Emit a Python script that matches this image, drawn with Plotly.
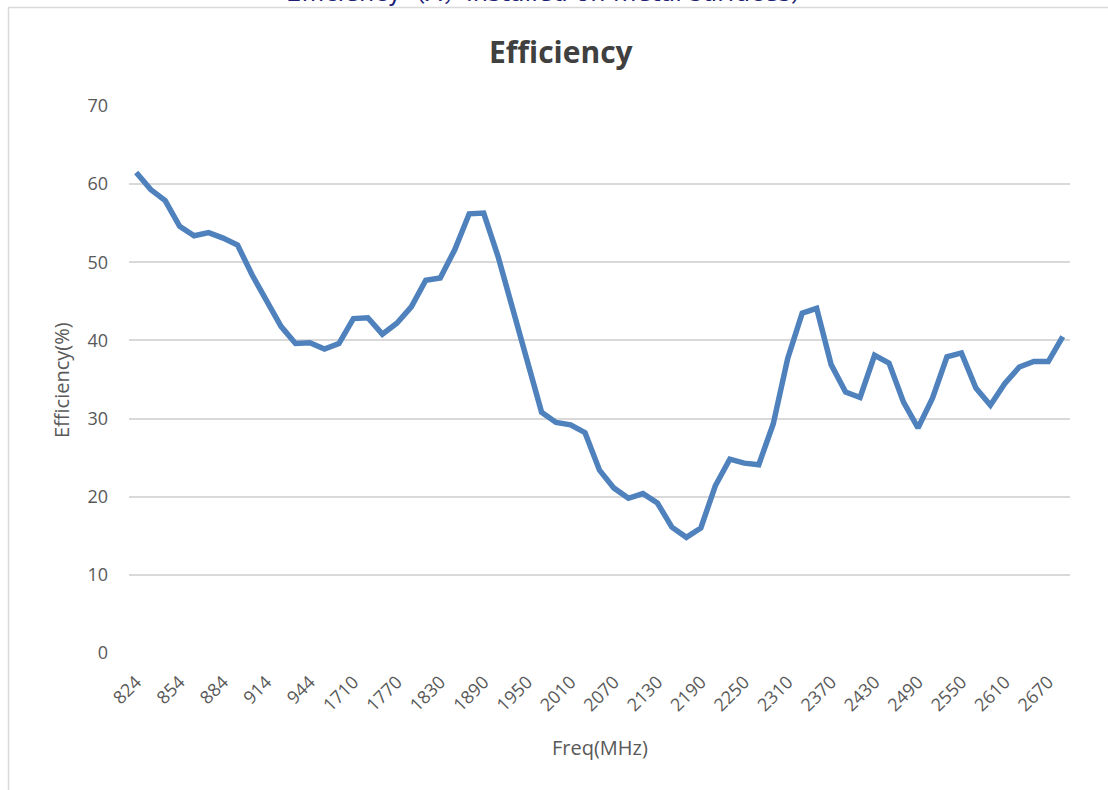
import plotly.graph_objects as go

freq = [824, 834, 844, 854, 864, 874, 884, 894, 904, 914, 924, 934, 944, 954, 960,
        1710, 1730, 1750, 1770, 1790, 1810, 1830, 1850, 1870, 1890, 1910, 1930, 1950,
        1970, 1990, 2010, 2030, 2050, 2070, 2090, 2110, 2130, 2150, 2170, 2190, 2210,
        2230, 2250, 2270, 2290, 2310, 2330, 2350, 2370, 2390, 2410, 2430, 2450, 2470,
        2490, 2510, 2530, 2550, 2570, 2590, 2610, 2630, 2650, 2670, 2690]
efficiency = [61.5, 59.3, 57.9, 54.6, 53.4, 53.8, 53.1, 52.2, 48.4, 45.0, 41.8, 39.6,
              39.7, 38.9, 39.6, 42.8, 42.9, 40.8, 42.2, 44.3, 47.7, 48.0, 51.6, 56.2,
              56.3, 50.7, 44.1, 37.5, 30.8, 29.5, 29.2, 28.2, 23.4, 21.1, 19.8, 20.4,
              19.2, 16.1, 14.8, 16.0, 21.4, 24.8, 24.3, 24.1, 29.3, 37.7, 43.5, 44.1,
              36.9, 33.4, 32.7, 38.1, 37.1, 32.1, 28.8, 32.6, 37.9, 38.4, 33.9, 31.7,
              34.5, 36.6, 37.3, 37.3, 40.5]
cats = [str(f) for f in freq]
tick_labels = cats[::3]

title_text = "Efficiency"
top_text = "Efficiency（A，installed on metal surfaces）"
x_title = "Freq(MHz)"
y_title = "Efficiency(%)"

W, H = 1108, 790
L, R, T, B = 129, 38, 106, 137
pw, ph = W - L - R, H - T - B


def px(x):
    return (x - L) / pw


def py(y):
    return (H - B - y) / ph


fig = go.Figure()
fig.add_trace(go.Scatter(
    x=cats, y=efficiency, mode="lines",
    line=dict(color="#4F81BD", width=5.5, shape="linear"),
    hoverinfo="x+y", showlegend=False,
))

font = "Open Sans, Calibri, Carlito, sans-serif"
fig.update_layout(
    width=W, height=H,
    margin=dict(l=L, r=R, t=T, b=B),
    paper_bgcolor="white", plot_bgcolor="white",
    font=dict(family=font, color="#595959", size=18),
    xaxis=dict(
        type="category", tickmode="array", tickvals=tick_labels, ticktext=tick_labels,
        tickangle=-45, showgrid=False, zeroline=False, showline=False,
        ticks="", ticklabelstandoff=14,
        tickfont=dict(size=18, color="#595959"),
        range=[-0.5, len(cats) - 0.5],
    ),
    yaxis=dict(
        range=[0, 70], dtick=10, tick0=0, showgrid=True, gridcolor="#D9D9D9",
        gridwidth=1.5, zeroline=False, showline=False, ticks="",
        ticklabelstandoff=20, tickfont=dict(size=18, color="#595959"),
    ),
    shapes=[
        dict(type="line", xref="paper", yref="paper",
             x0=px(8), x1=px(1120), y0=py(7.5), y1=py(7.5),
             line=dict(color="#D9D9D9", width=1.5)),
        dict(type="line", xref="paper", yref="paper",
             x0=px(8.5), x1=px(8.5), y0=py(7.5), y1=py(800),
             line=dict(color="#D9D9D9", width=1.5)),
    ],
    annotations=[
        dict(text="<b>" + title_text + "</b>", xref="paper", yref="paper",
             x=px(561), y=py(52), xanchor="center", yanchor="middle",
             showarrow=False, font=dict(size=30, color="#404040", family=font)),
        dict(text=top_text, xref="paper", yref="paper",
             x=px(550), y=py(9.5), xanchor="center", yanchor="bottom",
             showarrow=False,
             font=dict(size=24, color="#1F1F78", family="DejaVu Sans, Noto Sans CJK SC")),
        dict(text=x_title, xref="paper", yref="paper",
             x=px(600), y=py(747), xanchor="center", yanchor="middle",
             showarrow=False, font=dict(size=20, color="#595959", family=font)),
        dict(text=y_title, xref="paper", yref="paper",
             x=px(61), y=py(380), xanchor="center", yanchor="middle",
             textangle=-90, showarrow=False,
             font=dict(size=20, color="#595959", family=font)),
    ],
)

fig.write_html(
    "out.html",
    config={"displayModeBar": False},
    post_script="document.body.style.margin='0';document.body.style.overflow='hidden';",
)
